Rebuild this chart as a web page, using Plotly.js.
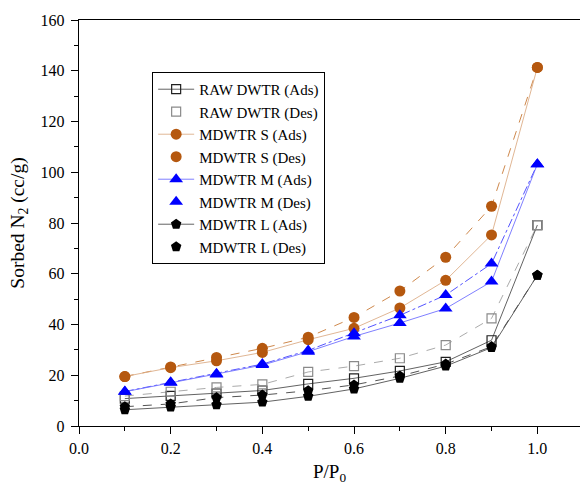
<!DOCTYPE html>
<html>
<head>
<meta charset="utf-8">
<script src="https://cdn.plot.ly/plotly-3.0.1.min.js"></script>
<style>html,body{margin:0;padding:0;background:#fff;}#chart{width:580px;height:491px;}</style>
</head>
<body>
<div id="chart"></div>
<script>
const pressure = [0.1, 0.2, 0.3, 0.4, 0.5, 0.6, 0.7, 0.8, 0.9, 1.0];
const rawAds = [10.8, 11.9, 12.8, 14.0, 16.6, 18.8, 21.7, 25.3, 33.8, 79.2];
const rawDes = [11.8, 13.5, 15.2, 16.4, 21.3, 23.6, 26.7, 31.9, 42.4, 79.2];
const sAds = [19.5, 23.0, 25.7, 29.0, 34.0, 38.5, 46.5, 57.4, 75.3, 141.3];
const sDes = [19.5, 23.3, 27.0, 30.6, 35.0, 42.8, 53.2, 66.5, 86.6, 141.3];
const mAds = [13.5, 17.0, 20.3, 24.0, 29.3, 35.3, 40.6, 46.3, 56.9, 103.2];
const mDes = [13.6, 17.2, 20.6, 24.4, 29.8, 36.6, 43.6, 51.6, 64.0, 103.2];
const lAds = [6.4, 7.5, 8.4, 9.4, 11.7, 14.6, 18.8, 23.6, 30.9, 59.4];
const lDes = [7.6, 8.7, 11.2, 12.2, 13.9, 16.2, 19.7, 24.4, 31.3, 59.4];
const seriesNames = ["RAW DWTR (Ads)", "RAW DWTR (Des)", "MDWTR S (Ads)", "MDWTR S (Des)",
                     "MDWTR M (Ads)", "MDWTR M (Des)", "MDWTR L (Ads)", "MDWTR L (Des)"];

function lineOnly(y, color, dash) {
  return {x: pressure, y: y, mode: 'lines', showlegend: false, hoverinfo: 'skip',
          line: {color: color, width: 0.9, dash: dash}};
}
function adsTrace(name, y, lineColor, marker) {
  return {x: pressure, y: y, name: name, mode: 'lines+markers',
          line: {color: lineColor, width: 0.9}, marker: marker};
}
function desTrace(name, y, marker) {
  return {x: pressure, y: y, name: name, mode: 'markers', marker: marker};
}

const traces = [
  lineOnly(rawDes, '#a0a0a0', 'dash'),
  lineOnly(sDes, '#c87a38', 'dash'),
  lineOnly(mDes, '#4040ff', 'dashdot'),
  lineOnly(lDes, '#404040', 'dash'),
  adsTrace(seriesNames[0], rawAds, '#505050', {symbol: 'square-open', size: 9, color: '#202020', line: {width: 1.2}}),
  desTrace(seriesNames[1], rawDes, {symbol: 'square-open', size: 9, color: '#8a8a8a', line: {width: 1.2}}),
  adsTrace(seriesNames[2], sAds, '#dcae88', {symbol: 'circle', size: 11, color: '#b5580f'}),
  desTrace(seriesNames[3], sDes, {symbol: 'circle', size: 11, color: '#b5580f'}),
  adsTrace(seriesNames[4], mAds, '#7070ff', {symbol: 'triangle-up', size: 12, color: '#0000ff'}),
  desTrace(seriesNames[5], mDes, {symbol: 'triangle-up', size: 12, color: '#0000ff'}),
  adsTrace(seriesNames[6], lAds, '#505050', {symbol: 'pentagon', size: 11, color: '#000000'}),
  desTrace(seriesNames[7], lDes, {symbol: 'pentagon', size: 11, color: '#000000'})
];

const font = {family: 'Liberation Serif, Times New Roman, serif', color: '#000'};

const layout = {
  width: 580, height: 491,
  margin: {l: 79, r: 0, t: 20, b: 65},
  paper_bgcolor: '#fff', plot_bgcolor: '#fff',
  font: Object.assign({size: 16}, font),
  showlegend: true,
  legend: {
    x: 0.146, y: 0.872, xanchor: 'left', yanchor: 'top',
    bgcolor: '#fff', bordercolor: '#000', borderwidth: 1,
    font: Object.assign({size: 15}, font),
    itemwidth: 36, tracegroupgap: 0
  },
  xaxis: {
    range: [0, 1.093], tickmode: 'array', tickvals: [0, 0.2, 0.4, 0.6, 0.8, 1.0],
    ticktext: ['0.0', '0.2', '0.4', '0.6', '0.8', '1.0'],
    ticks: 'outside', ticklen: 7, tickwidth: 1, tickcolor: '#000',
    minor: {tickvals: [0.1, 0.3, 0.5, 0.7, 0.9], ticks: 'outside', ticklen: 4, tickcolor: '#000', showgrid: false},
    showline: true, linecolor: '#000', linewidth: 1.3, mirror: true,
    showgrid: false, zeroline: false,
    tickfont: Object.assign({size: 16}, font),
    title: {text: 'P/P<sub>0</sub>', font: Object.assign({size: 19}, font), standoff: 9}
  },
  yaxis: {
    range: [0, 160], tickmode: 'array', tickvals: [0, 20, 40, 60, 80, 100, 120, 140, 160],
    ticks: 'outside', ticklen: 7, tickwidth: 1, tickcolor: '#000',
    minor: {tickvals: [10, 30, 50, 70, 90, 110, 130, 150], ticks: 'outside', ticklen: 4, tickcolor: '#000', showgrid: false},
    showline: true, linecolor: '#000', linewidth: 1.3, mirror: true,
    showgrid: false, zeroline: false,
    ticklabelstandoff: 3,
    tickfont: Object.assign({size: 16}, font),
    title: {text: 'Sorbed N<sub>2</sub> (cc/g)', font: Object.assign({size: 19.5}, font), standoff: 10}
  }
};

Plotly.newPlot('chart', traces, layout, {displayModeBar: false, staticPlot: true});
</script>
</body>
</html>
